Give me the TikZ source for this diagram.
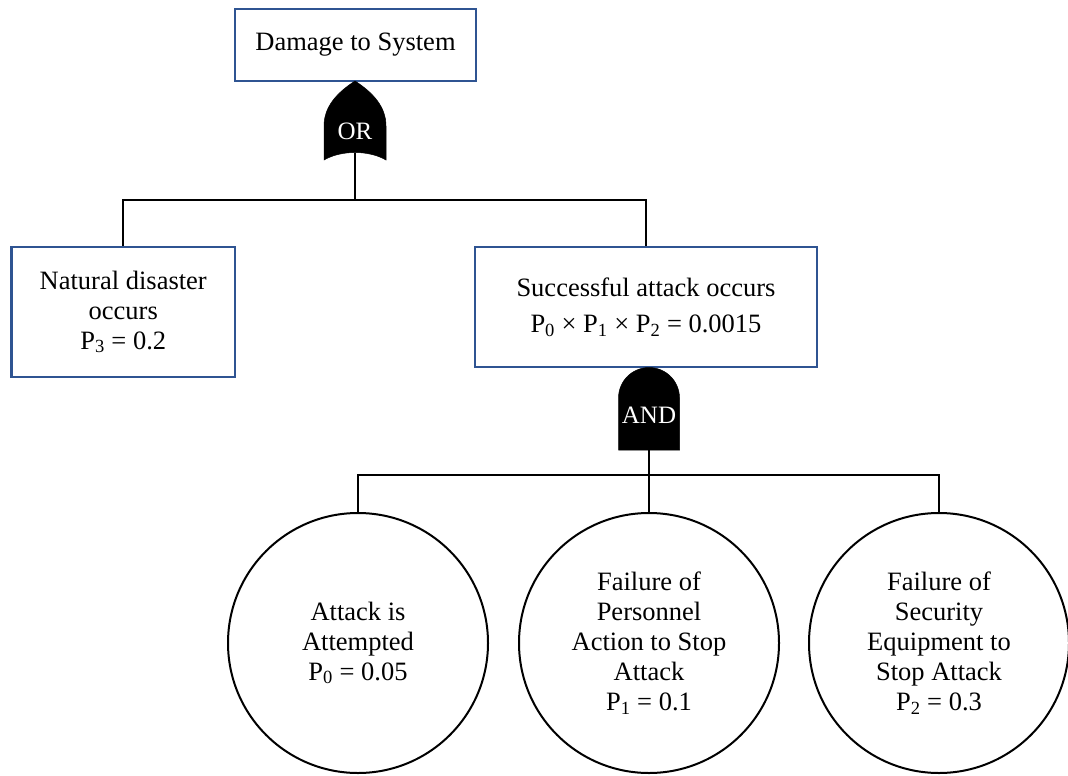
\documentclass[tikz,border=0pt]{standalone}
\usepackage{fontspec}
\setmainfont{Liberation Serif}
\definecolor{boxblue}{RGB}{47,84,146}
\begin{document}
\begin{tikzpicture}[x=1pt,y=-1pt,
  evbox/.style={draw=boxblue, line width=2.4pt, fill=white, align=center, inner sep=0pt,
    font=\fontsize{26.5}{30}\selectfont},
  basicev/.style={draw=black, circle, line width=2pt, align=center, minimum size=260pt,
    inner sep=0pt, font=\fontsize{26.5}{30}\selectfont},
  wire/.style={draw=black, line width=1.8pt},
  gatefill/.style={fill=black, draw=black, line width=0.5pt},
  gatelabel/.style={text=white, inner sep=0pt, font=\fontsize{25}{30}\selectfont}]
\useasboundingbox (0,0) rectangle (1068,776);

% events
\node[evbox, minimum width=241pt, minimum height=72pt] (top) at (355.5,45) {Damage to System};
\node[evbox, minimum width=223.5pt, minimum height=130pt] (nat) at (123.25,312)
  {Natural disaster\\occurs\\P\textsubscript{3} = 0.2};
\node[evbox, minimum width=342pt, minimum height=120pt] (succ) at (646,307)
  {Successful attack occurs\\[6pt]P\textsubscript{0} × P\textsubscript{1} × P\textsubscript{2} = 0.0015};

% basic events
\node[basicev] (c1) at (358,643) {Attack is\\Attempted\\P\textsubscript{0} = 0.05};
\node[basicev] (c2) at (649,643) {Failure of\\Personnel\\Action to Stop\\Attack\\P\textsubscript{1} = 0.1};
\node[basicev] (c3) at (939,643) {Failure of\\Security\\Equipment to\\Stop Attack\\P\textsubscript{2} = 0.3};

% OR gate
\fill[gatefill] (355,81) .. controls (338,92) and (324,106) .. (324,126) -- (324,160)
  .. controls (341,150) and (369,150) .. (386,160) -- (386,126)
  .. controls (386,106) and (372,92) .. (355,81) -- cycle;
\node[gatelabel] (orlbl) at (355,131) {OR};
\coordinate (orb) at (355,152.5);
\coordinate (bus1) at (355,200);

% AND gate
\fill[gatefill] (618.5,450) -- (618.5,398) arc[start angle=180, end angle=360, radius=30.5] -- (679.5,450) -- cycle;
\node[gatelabel] (andlbl) at (649,415) {AND};
\coordinate (andb) at (649,450);
\coordinate (bus2) at (649,475);

% connectors
\draw[wire] (orb) -- (bus1);
\draw[wire] (nat.north) |- (bus1) -| (succ.north);
\draw[wire] (andb) -- (c2.north);
\draw[wire] (c1.north) |- (bus2) -| (c3.north);
\end{tikzpicture}
\end{document}
